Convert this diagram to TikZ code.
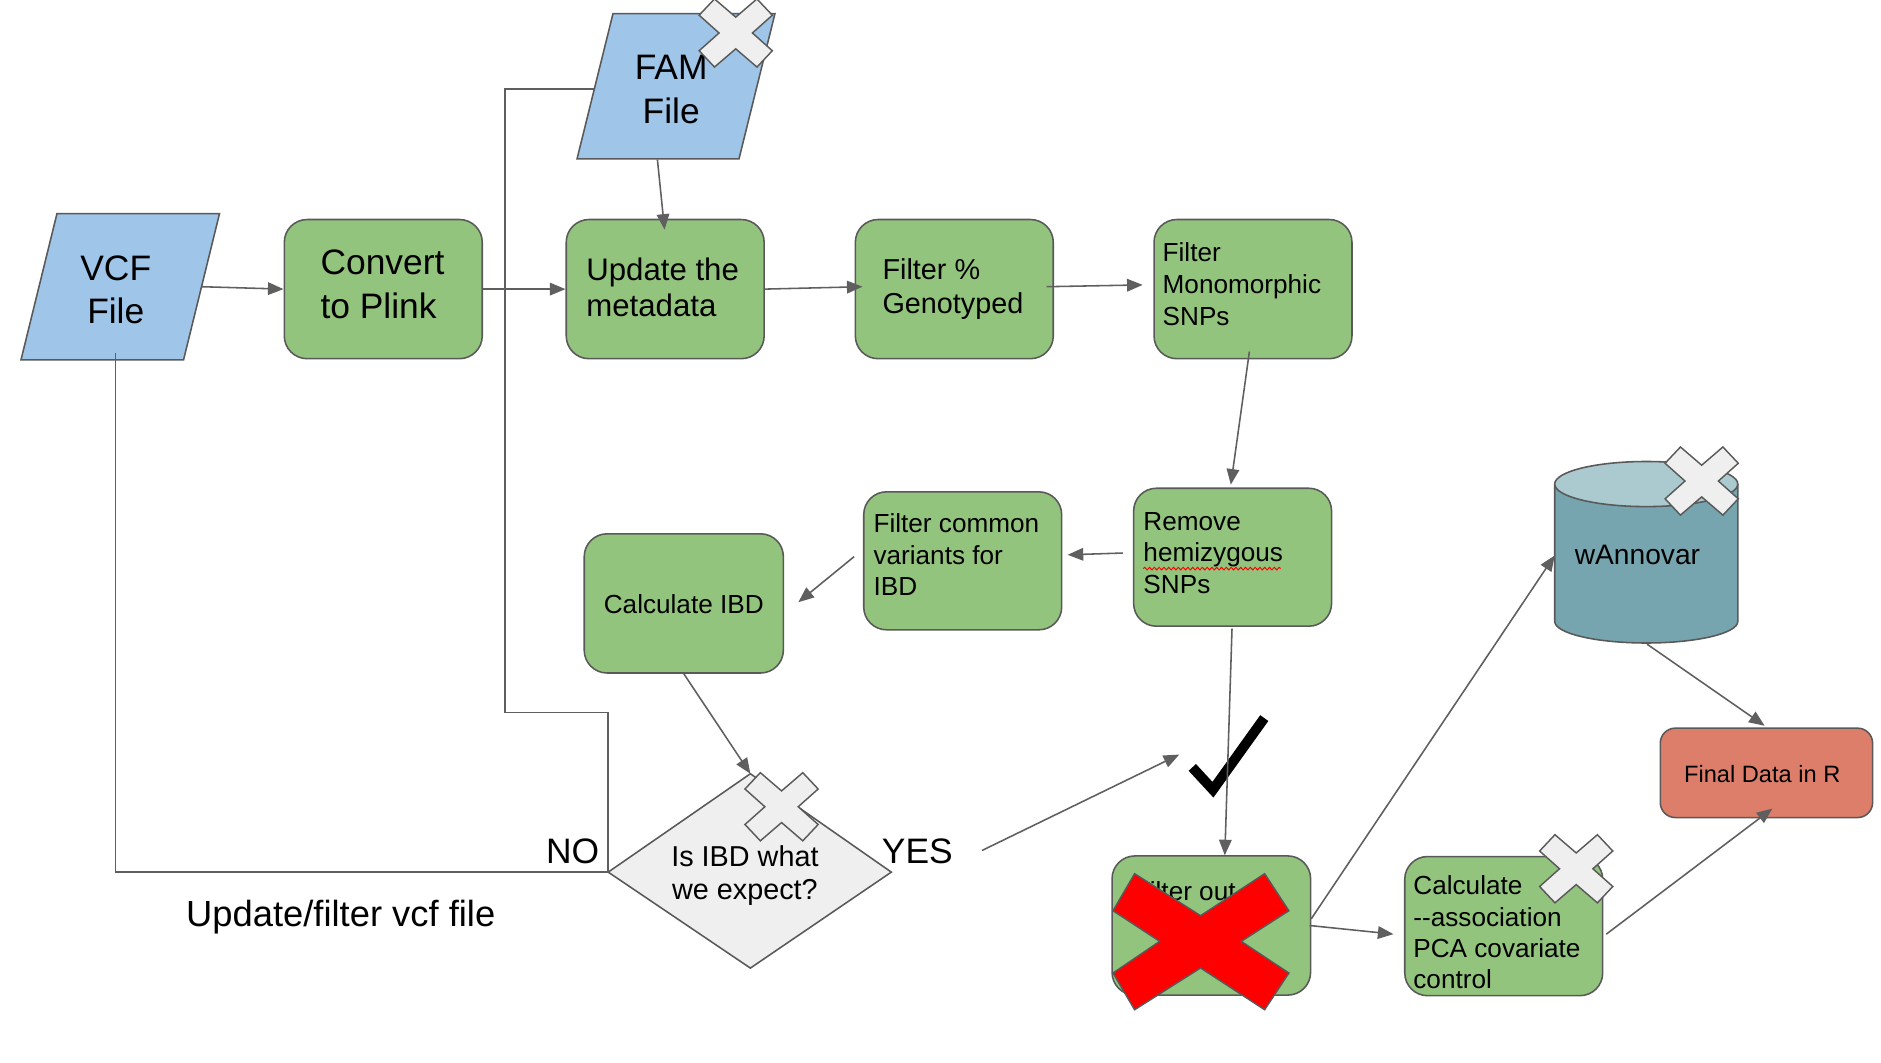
\documentclass[tikz,border=0pt]{standalone}
\usepackage{fontspec}
\setmainfont{Liberation Sans}
\usetikzlibrary{arrows.meta,decorations.pathmorphing}
\definecolor{bord}{HTML}{595959}
\definecolor{linegray}{HTML}{5F5F5F}
\definecolor{boxgreen}{HTML}{93C47D}
\definecolor{fileblue}{HTML}{9FC5E8}
\definecolor{xgray}{HTML}{EFEFEF}
\definecolor{cylbody}{HTML}{76A5AF}
\definecolor{cyltop}{HTML}{AACACF}
\definecolor{salmon}{HTML}{DD7E6B}
\newcommand\myfbig{\fontsize{29.5}{36.5}\selectfont}
\newcommand\myfupd{\fontsize{26}{30}\selectfont}
\newcommand\myfmid{\fontsize{24}{28}\selectfont}
\newcommand\myfdia{\fontsize{24}{28}\selectfont}
\newcommand\myfsmall{\fontsize{21.8}{26.3}\selectfont}
\newcommand\myfassoc{\fontsize{21.8}{26}\selectfont}
\newcommand\myffinal{\fontsize{19.7}{24}\selectfont}
\newcommand\myfann{\fontsize{23.5}{28}\selectfont}
\newcommand\myfvcf{\fontsize{30.3}{36}\selectfont}
\begin{document}
\begin{tikzpicture}[x=1pt,y=-1pt,
  gbox/.style={draw=bord, fill=boxgreen, line width=1.3pt, rounded corners=19pt,
    minimum width=165pt, minimum height=116pt, inner sep=0pt},
  filestyle/.style={draw=bord, fill=fileblue, line width=1.3pt},
  conn/.style={draw=linegray, line width=1.3pt, -{Triangle[length=13pt,width=10.5pt]}},
  plainline/.style={draw=linegray, line width=1.3pt},
  txt/.style={inner sep=0pt, align=left, anchor=base west},
  ctxt/.style={inner sep=0pt, align=center, anchor=base},
  grayx/.pic={\draw[draw=bord, fill=xgray, line width=1.2pt, line join=miter]
    (-17.7,-28.4) -- (0,-13.2) -- (17.7,-28.4) -- (30.5,-14.8) -- (13.9,0) --
    (30.5,14.8) -- (17.7,28.4) -- (0,13.2) -- (-17.7,28.4) -- (-30.5,14.8) --
    (-13.9,0) -- (-30.5,-14.8) -- cycle;}
]
\fill[white] (0,0) rectangle (1568,885.3);
\useasboundingbox (0,0) rectangle (1568,885.3);

% ---------- input files ----------
\draw[filestyle] (47.5,178) -- (183,178) -- (153,300) -- (17.5,300) -- cycle;
\node[ctxt, font=\myfbig] (t-vcf) at (96.5,270) {VCF\\File};
\draw[filestyle] (511,11.3) -- (646,11.3) -- (616,132.5) -- (481,132.5) -- cycle;
\node[ctxt, font=\myfbig] (t-fam) at (559.5,102.8) {FAM\\File};

% ---------- boxes ----------
\node[gbox] (conv) at (319.5,241) {};
\node[gbox] (upd) at (554.5,241) {};
\node[gbox] (fgeno) at (795.5,241) {};
\node[gbox] (fmono) at (1044.5,241) {};
\node[gbox, minimum height=115pt] (remhemi) at (1027.5,464.5) {};
\node[gbox, minimum height=115pt] (fcommon) at (802.5,467.5) {};
\node[gbox, minimum width=166pt] (calcibd) at (570,503) {};
\node[gbox, minimum width=165.5pt] (filtout) at (1009.75,771.5) {};
\node[gbox] (calcassoc) at (1253.5,772) {};
\node[draw=bord, fill=salmon, line width=1.3pt, rounded corners=12.5pt,
  minimum width=177pt, minimum height=74.5pt, inner sep=0pt] (final) at (1472.5,644.25) {};

% diamond
\draw[draw=bord, fill=xgray, line width=1.3pt] (507,727) coordinate (dia-w) --
  (625.5,645) coordinate (dia-n) -- (743,727) coordinate (dia-e) --
  (625.5,807) coordinate (dia-s) -- cycle;

% cylinder
\fill[cylbody] (1296,403.5) -- (1296,518) arc[start angle=180, end angle=0, x radius=76.3, y radius=18] -- (1448.6,403.5) -- cycle;
\draw[draw=bord, line width=1.3pt] (1296,403.5) -- (1296,518) arc[start angle=180, end angle=0, x radius=76.3, y radius=18] -- (1448.6,403.5);
\draw[draw=bord, fill=cyltop, line width=1.3pt] (1372.3,403.5) ellipse[x radius=76.3, y radius=18.8];
\coordinate (cyl-w) at (1296,463);
\coordinate (cyl-s) at (1373,537);

% ---------- texts (anchor = baseline of last line) ----------
\node[txt, font=\myfbig] (t-conv) at (267,265.5) {Convert\\to Plink};
\node[txt, font=\myfupd] (t-upd) at (488.6,264) {Update the\\metadata};
\node[txt, font=\myfmid] (t-fgeno) at (735.5,261) {Filter \%\\Genotyped};
\node[txt, font=\myfsmall] (t-fmono) at (969,271) {Filter\\Monomorphic\\SNPs};
\node[txt, font=\myfsmall] (t-rem) at (953,494.5) {Remove\\hemizygous\\SNPs};
\node[txt, font=\myfsmall] (t-fcom) at (728,496.5) {Filter common\\variants for\\IBD};
\node[ctxt, font=\myfsmall] (t-calcibd) at (570,511) {Calculate IBD};
\node[ctxt, font=\myfdia] (t-dia) at (621,750) {Is IBD what\\we expect?};
\node[txt, font=\myfbig] (t-no) at (455,719.4) {NO};
\node[txt, font=\myfbig] (t-yes) at (735,719.4) {YES};
\node[txt, font=\myfvcf] (t-updvcf) at (155,772.5) {Update/filter vcf file};
\node[txt, font=\myfann] (t-ann) at (1312.5,470.5) {wAnnovar};
\node[ctxt, font=\myffinal] (t-final) at (1469,652.5) {Final Data in R};
\node[txt, font=\myfsmall] (t-filt) at (945,750.5) {Filter out};
\node[txt, font=\myfassoc] (t-assoc) at (1178,824) {Calculate\\-{}-association\\PCA covariate\\control};
\draw[red, line width=0.8pt, decorate, decoration={snake, amplitude=1.1pt, segment length=4pt}]
  (953,474) coordinate (sq-a) -- (1067.5,474) coordinate (sq-b);

% ---------- check mark ----------
\draw[black, line width=8.3pt, line join=miter] (993.9,639.7) coordinate (ck-a) --
  (1011.1,658.3) coordinate (ck-b) -- (1053.9,598.6) coordinate (ck-c);

% ---------- connector end points ----------
\coordinate (vcf-e) at (168,239);
\coordinate (vcf-in) at (96.4,294);
\coordinate (fam-w) at (495,74);
\coordinate (fam-s) at (548,133);
\coordinate (upd-top) at (554,191.5);
\coordinate (fgeno-in) at (719,239);
\coordinate (fgeno-out) at (872.5,239);
\coordinate (fmono-in) at (952.5,237.5);
\coordinate (fmono-out) at (1041.5,293);
\coordinate (rem-in) at (1026,404);
\coordinate (rem-out) at (936,461);
\coordinate (fcom-in) at (890,462.5);
\coordinate (fcom-out) at (712,464);
\coordinate (calc-in) at (665.5,502);
\coordinate (yes-out) at (818.5,709);
\coordinate (ck-in) at (983,629);
\coordinate (rem-down) at (1027,524);
\coordinate (filt-in) at (1021,713);
\coordinate (filt-out1) at (1093,766);
\coordinate (filt-out2) at (1091.6,771.5);
\coordinate (assoc-in) at (1161.6,778.7);
\coordinate (assoc-out) at (1339,778.7);
\coordinate (final-in1) at (1477.5,674);
\coordinate (final-in2) at (1471,605);

% ---------- connectors ----------
\draw[plainline] (vcf-in) |- (dia-w);
\draw[plainline] (fam-w) -- (421,74) -- (421,594) -| (dia-w);
\draw[conn] (vcf-e) -- (conv.west);
\draw[conn] (conv.east) -- (upd.west);
\draw[conn] (fam-s) -- (upd-top);
\draw[conn] (upd.east) -- (fgeno-in);
\draw[conn] (fgeno-out) -- (fmono-in);
\draw[conn] (fmono-out) -- (rem-in);
\draw[conn] (rem-out) -- (fcom-in);
\draw[conn] (fcom-out) -- (calc-in);
\draw[conn] (calcibd.south) -- (dia-n);
\draw[conn] (yes-out) -- (ck-in);
\draw[conn] (rem-down) -- (filt-in);
\draw[conn] (filt-out1) -- (cyl-w);
\draw[conn] (filt-out2) -- (assoc-in);
\draw[conn] (assoc-out) -- (final-in1);
\draw[conn] (cyl-s) -- (final-in2);

% ---------- red cross ----------
\draw[draw=bord, fill=red, line width=1.2pt, line join=miter]
  (945.8,728.3) -- (1000.8,763.3) -- (1054.2,728.3) -- (1074.4,759.2) --
  (1034.7,784.7) -- (1074.4,811.1) -- (1054.2,841.7) -- (1000.8,806.9) --
  (945.8,841.7) -- (927.8,811.1) -- (966.7,784.7) -- (927.8,759.2) -- cycle;

% ---------- gray crosses ----------
\pic (x-fam) at (613.3,27.5) {grayx};
\pic (x-dia) at (651.5,672.5) {grayx};
\pic (x-ann) at (1418.5,401) {grayx};
\pic (x-assoc) at (1313.9,724.2) {grayx};
\end{tikzpicture}
\end{document}
